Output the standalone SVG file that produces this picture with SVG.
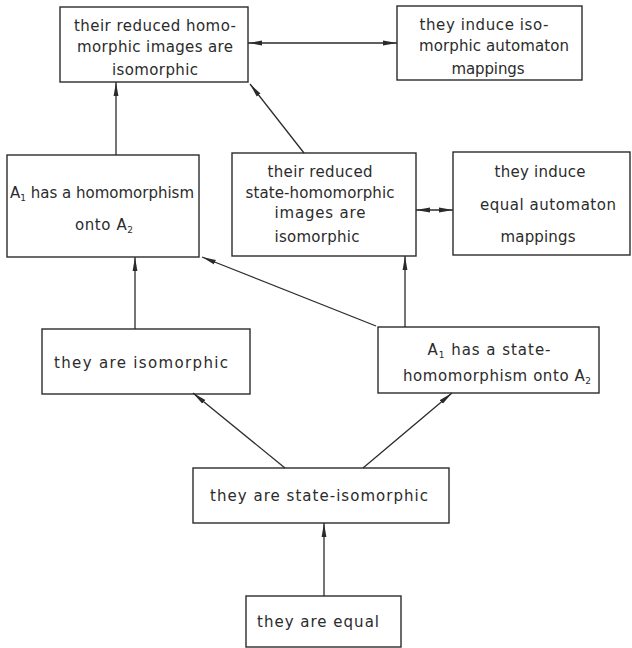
<svg xmlns="http://www.w3.org/2000/svg" width="632" height="648" viewBox="0 0 632 648">
<defs>
<style>
.box{fill:none;stroke:#2b2b2b;stroke-width:1.4}
.t{font-family:"DejaVu Sans","Liberation Sans",sans-serif;font-size:15px;fill:#2b2b2b;text-anchor:middle}
.sub{font-size:9px}
.c line{stroke:#2b2b2b;stroke-width:1.3;fill:none}
</style>
<marker id="ah" viewBox="0 0 14 6" refX="14" refY="3" markerWidth="14" markerHeight="6" markerUnits="userSpaceOnUse" orient="auto-start-reverse">
<path d="M0,0.6 L14,3 L0,5.4 Z" fill="#2b2b2b"/>
</marker>
</defs>
<rect width="632" height="648" fill="#ffffff"/>
<g class="c" id="connectors">
<line x1="248" y1="43" x2="397" y2="43" marker-start="url(#ah)" marker-end="url(#ah)"/>
<line x1="116" y1="155" x2="116" y2="82" marker-end="url(#ah)"/>
<line x1="304" y1="153" x2="250" y2="84" marker-end="url(#ah)"/>
<line x1="416" y1="210" x2="453" y2="210" marker-start="url(#ah)" marker-end="url(#ah)"/>
<line x1="135" y1="329" x2="135" y2="257" marker-end="url(#ah)"/>
<line x1="376" y1="326" x2="202" y2="257" marker-end="url(#ah)"/>
<line x1="405" y1="327" x2="405" y2="256" marker-end="url(#ah)"/>
<line x1="285" y1="468" x2="193" y2="393" marker-end="url(#ah)"/>
<line x1="363" y1="468" x2="452" y2="393" marker-end="url(#ah)"/>
<line x1="324" y1="596" x2="324" y2="523" marker-end="url(#ah)"/>
</g>
<g id="n1">
<rect class="box" x="60" y="7" width="188" height="75"/>
<text class="t" x="155" y="31" textLength="162" lengthAdjust="spacing">their reduced homo-</text>
<text class="t" x="155" y="52" textLength="156" lengthAdjust="spacing">morphic images are</text>
<text class="t" x="155" y="75" textLength="86" lengthAdjust="spacing">isomorphic</text>
</g>
<g id="n2">
<rect class="box" x="397" y="6" width="185" height="74"/>
<text class="t" x="484" y="30" textLength="129" lengthAdjust="spacing">they induce  iso-</text>
<text class="t" x="494" y="51" textLength="150" lengthAdjust="spacing">morphic automaton</text>
<text class="t" x="488" y="74" textLength="73" lengthAdjust="spacing">mappings</text>
</g>
<g id="n3">
<rect class="box" x="7" y="155" width="192" height="102"/>
<text class="t" x="102" y="198" textLength="184" lengthAdjust="spacing">A<tspan class="sub" dy="3">1</tspan><tspan dy="-3"> has a homomorphism</tspan></text>
<text class="t" x="104" y="230" textLength="58" lengthAdjust="spacing">onto A<tspan class="sub" dy="3">2</tspan></text>
</g>
<g id="n4">
<rect class="box" x="232" y="153" width="184" height="103"/>
<text class="t" x="320" y="177" textLength="105" lengthAdjust="spacing">their reduced</text>
<text class="t" x="320" y="198" textLength="149" lengthAdjust="spacing">state-homomorphic</text>
<text class="t" x="320" y="218" textLength="91" lengthAdjust="spacing">images are</text>
<text class="t" x="317" y="242" textLength="85" lengthAdjust="spacing">isomorphic</text>
</g>
<g id="n5">
<rect class="box" x="453" y="152" width="177" height="103"/>
<text class="t" x="540" y="177" textLength="91" lengthAdjust="spacing">they induce</text>
<text class="t" x="548" y="210" textLength="136" lengthAdjust="spacing">equal automaton</text>
<text class="t" x="538" y="242" textLength="75" lengthAdjust="spacing">mappings</text>
</g>
<g id="n6">
<rect class="box" x="42" y="329" width="208" height="65"/>
<text class="t" x="141" y="368" textLength="174" lengthAdjust="spacing">they are isomorphic</text>
</g>
<g id="n7">
<rect class="box" x="378" y="327" width="221" height="66"/>
<text class="t" x="489" y="355" textLength="123" lengthAdjust="spacing">A<tspan class="sub" dy="3">1</tspan><tspan dy="-3"> has a state-</tspan></text>
<text class="t" x="497" y="381" textLength="188" lengthAdjust="spacing">homomorphism onto A<tspan class="sub" dy="3">2</tspan></text>
</g>
<g id="n8">
<rect class="box" x="193" y="468" width="256" height="55"/>
<text class="t" x="319" y="501" textLength="218" lengthAdjust="spacing">they are state-isomorphic</text>
</g>
<g id="n9">
<rect class="box" x="246" y="596" width="155" height="51"/>
<text class="t" x="318" y="627" textLength="122" lengthAdjust="spacing">they are equal</text>
</g>
</svg>
